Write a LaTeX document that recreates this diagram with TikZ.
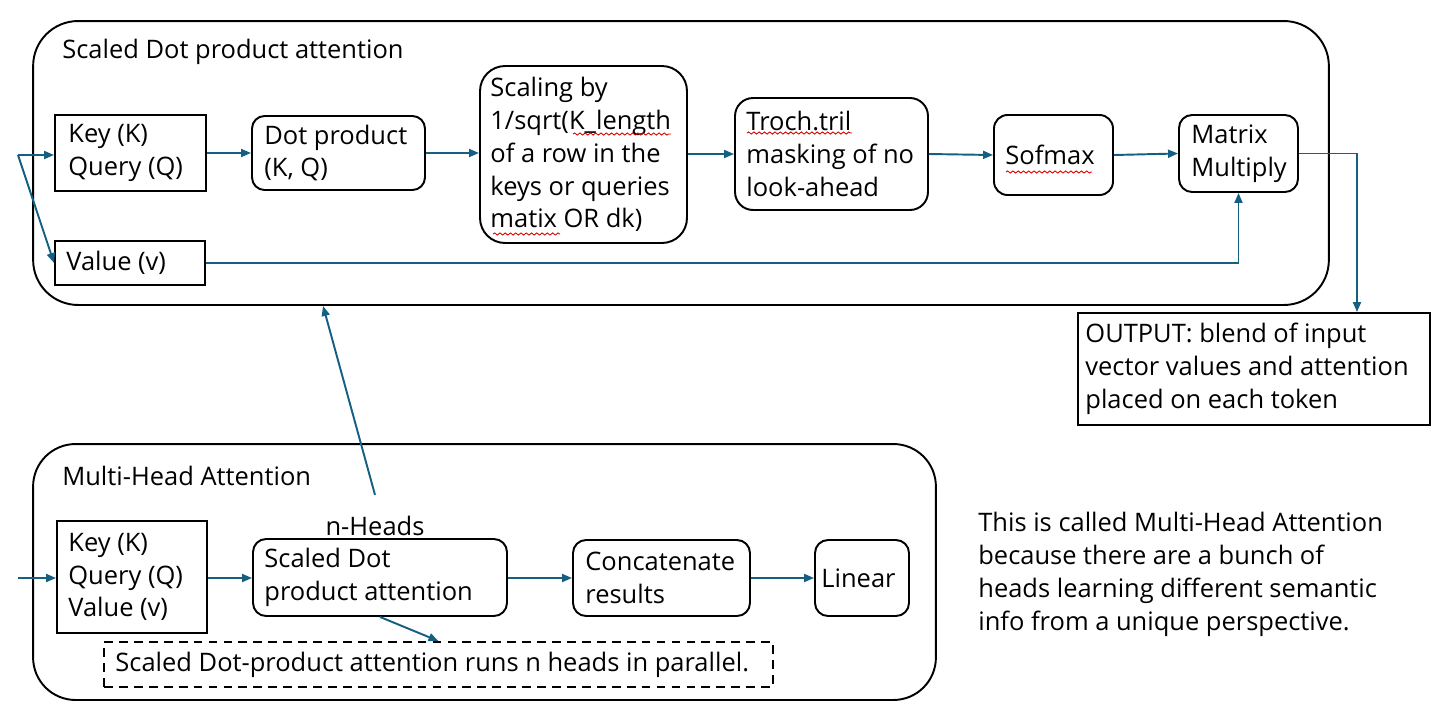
\documentclass[tikz,border=0pt]{standalone}
\usepackage{fontspec}
\setmainfont{Open Sans}
\usetikzlibrary{arrows.meta,decorations.pathmorphing}
\definecolor{arr}{HTML}{156082}
\begin{document}
\begin{tikzpicture}[x=0.02cm,y=-0.02cm,
 every node/.style={font=\fontsize{14.5}{18.7}\selectfont},
 bx/.style={draw=black, line width=1.1pt, inner sep=0pt},
 rbx/.style={bx, rounded corners=#1},
 txt/.style={anchor=west, align=left, inner sep=0pt},
 cont/.style={draw=black, line width=1.1pt, rounded corners=0.9cm, inner sep=0pt},
 con/.style={draw=arr, line width=1.1pt, -{Triangle[length=0.2cm,width=0.16cm]}},
 squig/.style={draw=red!85!black, line width=0.5pt, decorate, decoration={snake, segment length=3pt, amplitude=0.6pt}}
]
\useasboundingbox (0,0) rectangle (1444,721);
% containers
\node[cont, minimum width=25.92cm, minimum height=5.68cm] (topc) at (681,163) {};
\node[cont, rounded corners=0.85cm, minimum width=18.06cm, minimum height=5.12cm] (botc) at (484.5,572) {};
\node[txt] (t1) at (62,52) {Scaled Dot product attention};
\node[txt] (t2) at (62,476) {Multi-Head Attention};
% top row boxes
\node[bx, minimum width=3.02cm, minimum height=1.52cm] (kq) at (130.5,153) {};
\node[rbx=0.25cm, minimum width=3.46cm, minimum height=1.48cm] (dp) at (338.5,153) {};
\node[rbx=0.5cm, minimum width=4.14cm, minimum height=3.54cm] (sc) at (583.5,154.5) {};
\node[rbx=0.36cm, minimum width=3.86cm, minimum height=2.24cm] (tr) at (831.5,154) {};
\node[rbx=0.27cm, minimum width=2.38cm, minimum height=1.6cm] (sm) at (1053.5,155) {};
\node[rbx=0.26cm, minimum width=2.38cm, minimum height=1.54cm] (mm) at (1238.5,153.5) {};
\node[bx, minimum width=3.0cm, minimum height=0.88cm] (val) at (130,263) {};
\node[bx, minimum width=7.04cm, minimum height=2.24cm] (out) at (1254,369) {};
% top row texts
\node[txt] (kq-t) at ([xshift=0.28cm]kq.west) {Key (K)\\Query (Q)};
\node[txt] (dp-t) at ([xshift=0.26cm]dp.west) {Dot product\\(K, Q)};
\node[txt] (sc-t) at ([xshift=0.22cm]sc.west) {Scaling by\\1/sqrt(K\_length\\of a row in the\\keys or queries\\matix OR dk)};
\node[txt] (tr-t) at ([xshift=0.24cm]tr.west) {Troch.tril\\masking of no\\look-ahead};
\node[txt] (sm-t) at ([xshift=0.24cm]sm.west) {Sofmax};
\node[txt] (mm-t) at ([xshift=0.26cm]mm.west) {Matrix\\Multiply};
\node[txt] (val-t) at ([xshift=0.24cm]val.west) {Value (v)};
\node[txt] (out-t) at ([xshift=0.16cm]out.west) {OUTPUT: blend of input\\vector values and attention\\placed on each token};
% bottom row boxes
\node[bx, minimum width=3.0cm, minimum height=2.24cm] (kqv) at (132,577) {};
\node[rbx=0.26cm, minimum width=5.08cm, minimum height=1.54cm] (sdpa) at (380,577.5) {};
\node[rbx=0.26cm, minimum width=3.54cm, minimum height=1.52cm] (cc) at (661.5,578) {};
\node[rbx=0.26cm, minimum width=1.88cm, minimum height=1.52cm] (lin) at (862,578) {};
\node[bx, dash pattern=on 5pt off 3.5pt, minimum width=13.38cm, minimum height=0.9cm] (dash) at (438.5,664.5) {};
% bottom row texts
\node[txt] (kqv-t) at ([xshift=0.24cm]kqv.west) {Key (K)\\Query (Q)\\Value (v)};
\node[txt] (sdpa-t) at ([xshift=0.24cm]sdpa.west) {Scaled Dot\\product attention};
\node[txt] (cc-t) at ([xshift=0.26cm]cc.west) {Concatenate\\results};
\node[txt] (lin-t) at ([xshift=0.14cm]lin.west) {Linear};
\node[txt] (dash-t) at ([xshift=0.24cm]dash.west) {Scaled Dot-product attention runs n heads in parallel.};
\node[inner sep=0pt] (nh) at (375,526) {n-Heads};
\node[txt] (note) at (978,574.5) {This is called Multi-Head Attention\\because there are a bunch of\\heads learning different semantic\\info from a unique perspective.};
% connectors
\coordinate (in1) at (18,155);
\coordinate (in2) at (18,578);
\draw[con] (in1) -- (kq.west |- in1);
\draw[con] (in1) -- (val.west);
\draw[con] (kq.east) -- (dp.west);
\draw[con] (dp.east) -- (sc.west |- dp.east);
\draw[con] (sc.east |- tr.west) -- (tr.west);
\draw[con] (tr.east) -- (sm.west);
\draw[con] (sm.east) -- (mm.west);
\draw[con] (val.east) -| (mm.south);
\draw[con] (mm.east) -| ([xshift=2.06cm]out.north);
\draw[con] (in2) -- (kqv.west |- in2);
\draw[con] (kqv.east |- in2) -- (sdpa.west |- in2);
\draw[con] (sdpa.east |- in2) -- (cc.west |- in2);
\draw[con] (cc.east) -- (lin.west);
\draw[con] (sdpa.south) -- (dash.north);
\draw[con] ([yshift=0.42cm]nh.north) -- ([xshift=-7.16cm]topc.south);
% spell-check marks
\draw[squig] (573,134) -- (671,134);
\draw[squig] (493,234) -- (560,234);
\draw[squig] (747,133) -- (852,133);
\draw[squig] (1006,172) -- (1092,172);
\end{tikzpicture}
\end{document}
